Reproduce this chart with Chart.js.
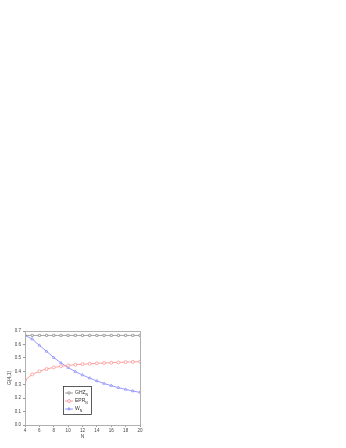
<!DOCTYPE html>
<html>
<head>
<meta charset="utf-8">
<style>
  html, body { margin: 0; padding: 0; background: #fff; }
  #wrap { position: relative; width: 346px; height: 448px; }
</style>
</head>
<body>
<div id="wrap"><canvas id="chart" width="346" height="448"></canvas></div>

<script src="https://cdn.jsdelivr.net/npm/chart.js"></script>
<script>
  // N values on the x axis
  const nValues = [4, 5, 6, 7, 8, 9, 10, 11, 12, 13, 14, 15, 16, 17, 18, 19, 20];

  // series
  const ghz = [0.667, 0.667, 0.667, 0.667, 0.667, 0.667, 0.667, 0.667, 0.667, 0.667, 0.667, 0.667, 0.667, 0.667, 0.667, 0.667, 0.667];
  const epr = [0.333, 0.377, 0.400, 0.417, 0.429, 0.437, 0.444, 0.449, 0.453, 0.456, 0.459, 0.462, 0.464, 0.466, 0.468, 0.470, 0.472];
  const wState = [0.667, 0.640, 0.593, 0.548, 0.502, 0.462, 0.428, 0.398, 0.372, 0.349, 0.328, 0.309, 0.293, 0.278, 0.265, 0.253, 0.243];

  const seriesNames = ['GHZ', 'EPR', 'W'];
  const xTicks = [4, 6, 8, 10, 12, 14, 16, 18, 20];
  const yTicks = [0.0, 0.1, 0.2, 0.3, 0.4, 0.5, 0.6, 0.7];

  const colors = ['#8c8c8c', '#ff8a8a', '#8080ff'];
  const markers = ['rect', 'circle', 'triangle'];

  // frame around the plot + legend box inside the plot
  const framePlugin = {
    id: 'frame',
    afterDraw(chart) {
      const { ctx, chartArea: a } = chart;
      ctx.save();
      ctx.strokeStyle = '#b0b0b0';
      ctx.lineWidth = 1;
      ctx.strokeRect(a.left + 0.5, a.top + 0.5, a.right - a.left, a.bottom - a.top);

      // legend
      const bx = 63.5, by = 386.5, bw = 28, bh = 28;
      ctx.fillStyle = '#fff';
      ctx.fillRect(bx, by, bw, bh);
      ctx.strokeStyle = '#333';
      ctx.lineWidth = 0.8;
      ctx.strokeRect(bx, by, bw, bh);
      const rows = [393, 401, 409];
      rows.forEach((y, i) => {
        ctx.strokeStyle = colors[i];
        ctx.lineWidth = 0.8;
        ctx.beginPath();
        ctx.moveTo(65, y);
        ctx.lineTo(73, y);
        ctx.stroke();
        ctx.fillStyle = '#fff';
        Chart.helpers.drawPoint(ctx, {
          pointStyle: markers[i], radius: 1.5, borderWidth: 0.7
        }, 69, y);
        ctx.fillStyle = '#333';
        ctx.font = '5px "Liberation Sans", Arial, sans-serif';
        ctx.textBaseline = 'middle';
        ctx.textAlign = 'left';
        ctx.fillText(seriesNames[i], 75, y);
        const w = ctx.measureText(seriesNames[i]).width;
        ctx.font = '3.5px "Liberation Sans", Arial, sans-serif';
        ctx.fillText('N', 75 + w, y + 2);
      });
      ctx.restore();
    }
  };

  const makeSet = (label, data, i) => ({
    label,
    data,
    borderColor: colors[i],
    backgroundColor: '#ffffff',
    pointBorderColor: colors[i],
    pointStyle: markers[i],
    pointRadius: 1.5,
    pointBorderWidth: 0.7,
    borderWidth: 0.8,
    tension: 0,
    fill: false
  });

  new Chart(document.getElementById('chart'), {
    type: 'line',
    data: {
      labels: nValues,
      datasets: [
        makeSet('GHZ_N', ghz, 0),
        makeSet('EPR_N', epr, 1),
        makeSet('W_N', wState, 2)
      ]
    },
    options: {
      responsive: false,
      animation: false,
      layout: { padding: { left: 0, top: 331, right: 206, bottom: 0 } },
      plugins: {
        legend: { display: false },
        tooltip: { enabled: false }
      },
      scales: {
        x: {
          type: 'linear',
          min: 4,
          max: 20,
          afterFit: s => { s.height = 23; },
          afterBuildTicks: s => { s.ticks = xTicks.map(v => ({ value: v })); },
          grid: { drawOnChartArea: false, tickLength: 2, color: '#999' },
          border: { color: '#999' },
          ticks: { color: '#444', font: { size: 4.5, family: 'Liberation Sans' }, padding: 1, maxRotation: 0 },
          title: { display: true, text: 'N', color: '#444', font: { size: 5, family: 'Liberation Sans' }, padding: { top: 0, bottom: 8 } }
        },
        y: {
          min: 0,
          max: 0.7,
          afterFit: s => { s.width = 25; },
          afterBuildTicks: s => { s.ticks = yTicks.map(v => ({ value: v })); },
          grid: { drawOnChartArea: false, tickLength: 2, color: '#999' },
          border: { color: '#999' },
          ticks: { color: '#444', font: { size: 4.5, family: 'Liberation Sans' }, padding: 2, callback: v => v.toFixed(1) },
          title: { display: true, text: 'G(4,1)', color: '#444', font: { size: 5, family: 'Liberation Sans' }, padding: { top: 7, bottom: 0 } }
        }
      }
    },
    plugins: [framePlugin]
  });
</script>
</body>
</html>
